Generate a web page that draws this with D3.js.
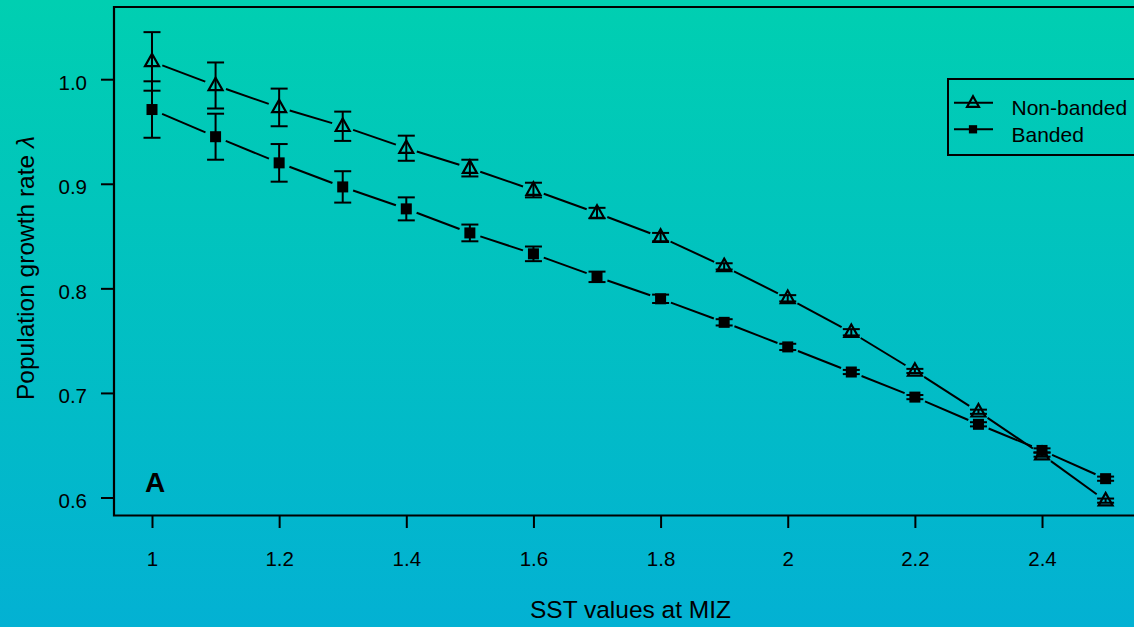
<!DOCTYPE html>
<html><head><meta charset="utf-8">
<script src="https://cdn.jsdelivr.net/npm/d3@7"></script>
<style>html,body{margin:0;padding:0;overflow:hidden;}svg{display:block;}</style>
</head><body>
<svg id="c" width="1134" height="627"></svg>
<script>
const sst = [1, 1.1, 1.2, 1.3, 1.4, 1.5, 1.6, 1.7, 1.8, 1.9, 2.0, 2.1, 2.2, 2.3, 2.4, 2.5];
const nonBanded = [1.017, 0.994, 0.973, 0.955, 0.934, 0.915, 0.894, 0.872, 0.849, 0.821, 0.7905, 0.758, 0.721, 0.682, 0.641, 0.597];
const nonBandedErr = [0.028, 0.022, 0.018, 0.014, 0.012, 0.008, 0.007, 0.005, 0.004, 0.003, 0.003, 0.003, 0.002, 0.002, 0.002, 0.002];
const banded = [0.971, 0.945, 0.920, 0.897, 0.876, 0.853, 0.833, 0.811, 0.790, 0.7675, 0.744, 0.720, 0.696, 0.670, 0.645, 0.618];
const bandedErr = [0.027, 0.022, 0.018, 0.015, 0.011, 0.008, 0.007, 0.005, 0.004, 0.003, 0.003, 0.002, 0.002, 0.002, 0.002, 0.002];
const xTicks = [1, 1.2, 1.4, 1.6, 1.8, 2, 2.2, 2.4];
const yTicks = [0.6, 0.7, 0.8, 0.9, 1.0];
const seriesNames = ["Non-banded", "Banded"];

const svg = d3.select("#c");
const W = 1134, H = 627;
const font = "'Liberation Sans', Arial, sans-serif";

// background gradient
const defs = svg.append("defs");
const grad = defs.append("linearGradient").attr("id", "bg").attr("x1", 0).attr("y1", 0).attr("x2", 0).attr("y2", 1);
grad.append("stop").attr("offset", "0%").attr("stop-color", "#00cfb1");
grad.append("stop").attr("offset", "100%").attr("stop-color", "#03b1d3");
svg.append("rect").attr("width", W).attr("height", H).attr("fill", "url(#bg)");

const x = d3.scaleLinear().domain([1, 2.5]).range([152, 1105.6]);
const y = d3.scaleLinear().domain([0.6, 1.0]).range([497.5, 79.2]);

const plotLeft = 114, plotTop = 7, plotBottom = 515.5;

// frame
svg.append("path")
  .attr("d", `M${W + 10},${plotTop}H${plotLeft}V${plotBottom}H${W + 10}`)
  .attr("fill", "none").attr("stroke", "#000").attr("stroke-width", 2.2);

// y axis
const yAxis = d3.axisLeft(y).tickValues(yTicks).tickFormat(d3.format(".1f")).tickSize(13).tickPadding(14);
const gy = svg.append("g").attr("transform", `translate(${plotLeft},0)`).call(yAxis);
gy.select(".domain").remove();
gy.selectAll(".tick line").attr("stroke", "#000").attr("stroke-width", 2);
gy.selectAll(".tick text").attr("font-family", font).attr("font-size", 20.5).attr("fill", "#000").attr("dy", "0.49em");

// x axis
const xAxis = d3.axisBottom(x).tickValues(xTicks).tickFormat(d => String(d)).tickSize(12.5).tickPadding(23);
const gx = svg.append("g").attr("transform", `translate(0,${plotBottom})`).call(xAxis);
gx.select(".domain").remove();
gx.selectAll(".tick line").attr("stroke", "#000").attr("stroke-width", 2);
gx.selectAll(".tick text").attr("font-family", font).attr("font-size", 20.5).attr("fill", "#000");

// axis titles
svg.append("text").attr("x", 630.5).attr("y", 617.5).attr("text-anchor", "middle")
  .attr("font-family", font).attr("font-size", 24.5).attr("fill", "#000").text("SST values at MIZ");
const yl = svg.append("text").attr("transform", "translate(33.5,400) rotate(-90)").attr("text-anchor", "start")
  .attr("font-family", font).attr("font-size", 24.5).attr("fill", "#000");
yl.append("tspan").text("Population growth rate ");
yl.append("tspan").attr("font-style", "italic").text("λ");

// panel letter
svg.append("text").attr("x", 155).attr("y", 491.5).attr("text-anchor", "middle")
  .attr("font-family", font).attr("font-weight", "bold").attr("font-size", 28).attr("fill", "#000").text("A");

const series = [
  {name: seriesNames[0], vals: nonBanded, err: nonBandedErr, shape: "tri"},
  {name: seriesNames[1], vals: banded, err: bandedErr, shape: "sq"}
];

const gap = 11;
function drawMarker(g, cx, cy, shape, s) {
  if (shape === "tri") {
    const w = 14 * s, h = 12.5 * s;
    g.append("path").attr("d", `M${cx},${cy - h * 0.62}L${cx + w / 2},${cy + h * 0.38}L${cx - w / 2},${cy + h * 0.38}Z`)
      .attr("fill", "none").attr("stroke", "#000").attr("stroke-width", 2.2);
  } else {
    const a = 11 * s;
    g.append("rect").attr("x", cx - a / 2).attr("y", cy - a / 2).attr("width", a).attr("height", a).attr("fill", "#000");
  }
}

series.forEach(sr => {
  const g = svg.append("g");
  for (let i = 0; i < sst.length - 1; i++) {
    const x1 = x(sst[i]), y1 = y(sr.vals[i]), x2 = x(sst[i + 1]), y2 = y(sr.vals[i + 1]);
    const dx = x2 - x1, dy = y2 - y1, L = Math.hypot(dx, dy);
    if (L > 2 * gap) {
      g.append("line")
        .attr("x1", x1 + dx / L * gap).attr("y1", y1 + dy / L * gap)
        .attr("x2", x2 - dx / L * gap).attr("y2", y2 - dy / L * gap)
        .attr("stroke", "#000").attr("stroke-width", 2);
    }
  }
  sst.forEach((sv, i) => {
    const cx = x(sv), yt = y(sr.vals[i] + sr.err[i]), yb = y(sr.vals[i] - sr.err[i]);
    g.append("line").attr("x1", cx).attr("x2", cx).attr("y1", yt).attr("y2", yb).attr("stroke", "#000").attr("stroke-width", 2);
    [yt, yb].forEach(yy => g.append("line").attr("x1", cx - 8.5).attr("x2", cx + 8.5).attr("y1", yy).attr("y2", yy)
      .attr("stroke", "#000").attr("stroke-width", 2));
  });
  sst.forEach((sv, i) => drawMarker(g, x(sv), y(sr.vals[i]), sr.shape, 1));
});

// legend
svg.append("path").attr("d", `M${W + 10},79V155H948V79H${W + 10}`).attr("fill", "none").attr("stroke", "#000").attr("stroke-width", 2);
series.forEach((sr, i) => {
  const ly = 102.8 + i * 26.5;
  const g = svg.append("g");
  g.append("line").attr("x1", 954).attr("x2", 993).attr("y1", ly).attr("y2", ly).attr("stroke", "#000").attr("stroke-width", 2);
  drawMarker(g, 973, ly, sr.shape, sr.shape === "tri" ? 0.85 : 0.75);
  g.append("text").attr("x", 1011.5).attr("y", ly + 12.3).attr("font-family", font).attr("font-size", 21).attr("fill", "#000").text(sr.name);
});
</script>
</body></html>
